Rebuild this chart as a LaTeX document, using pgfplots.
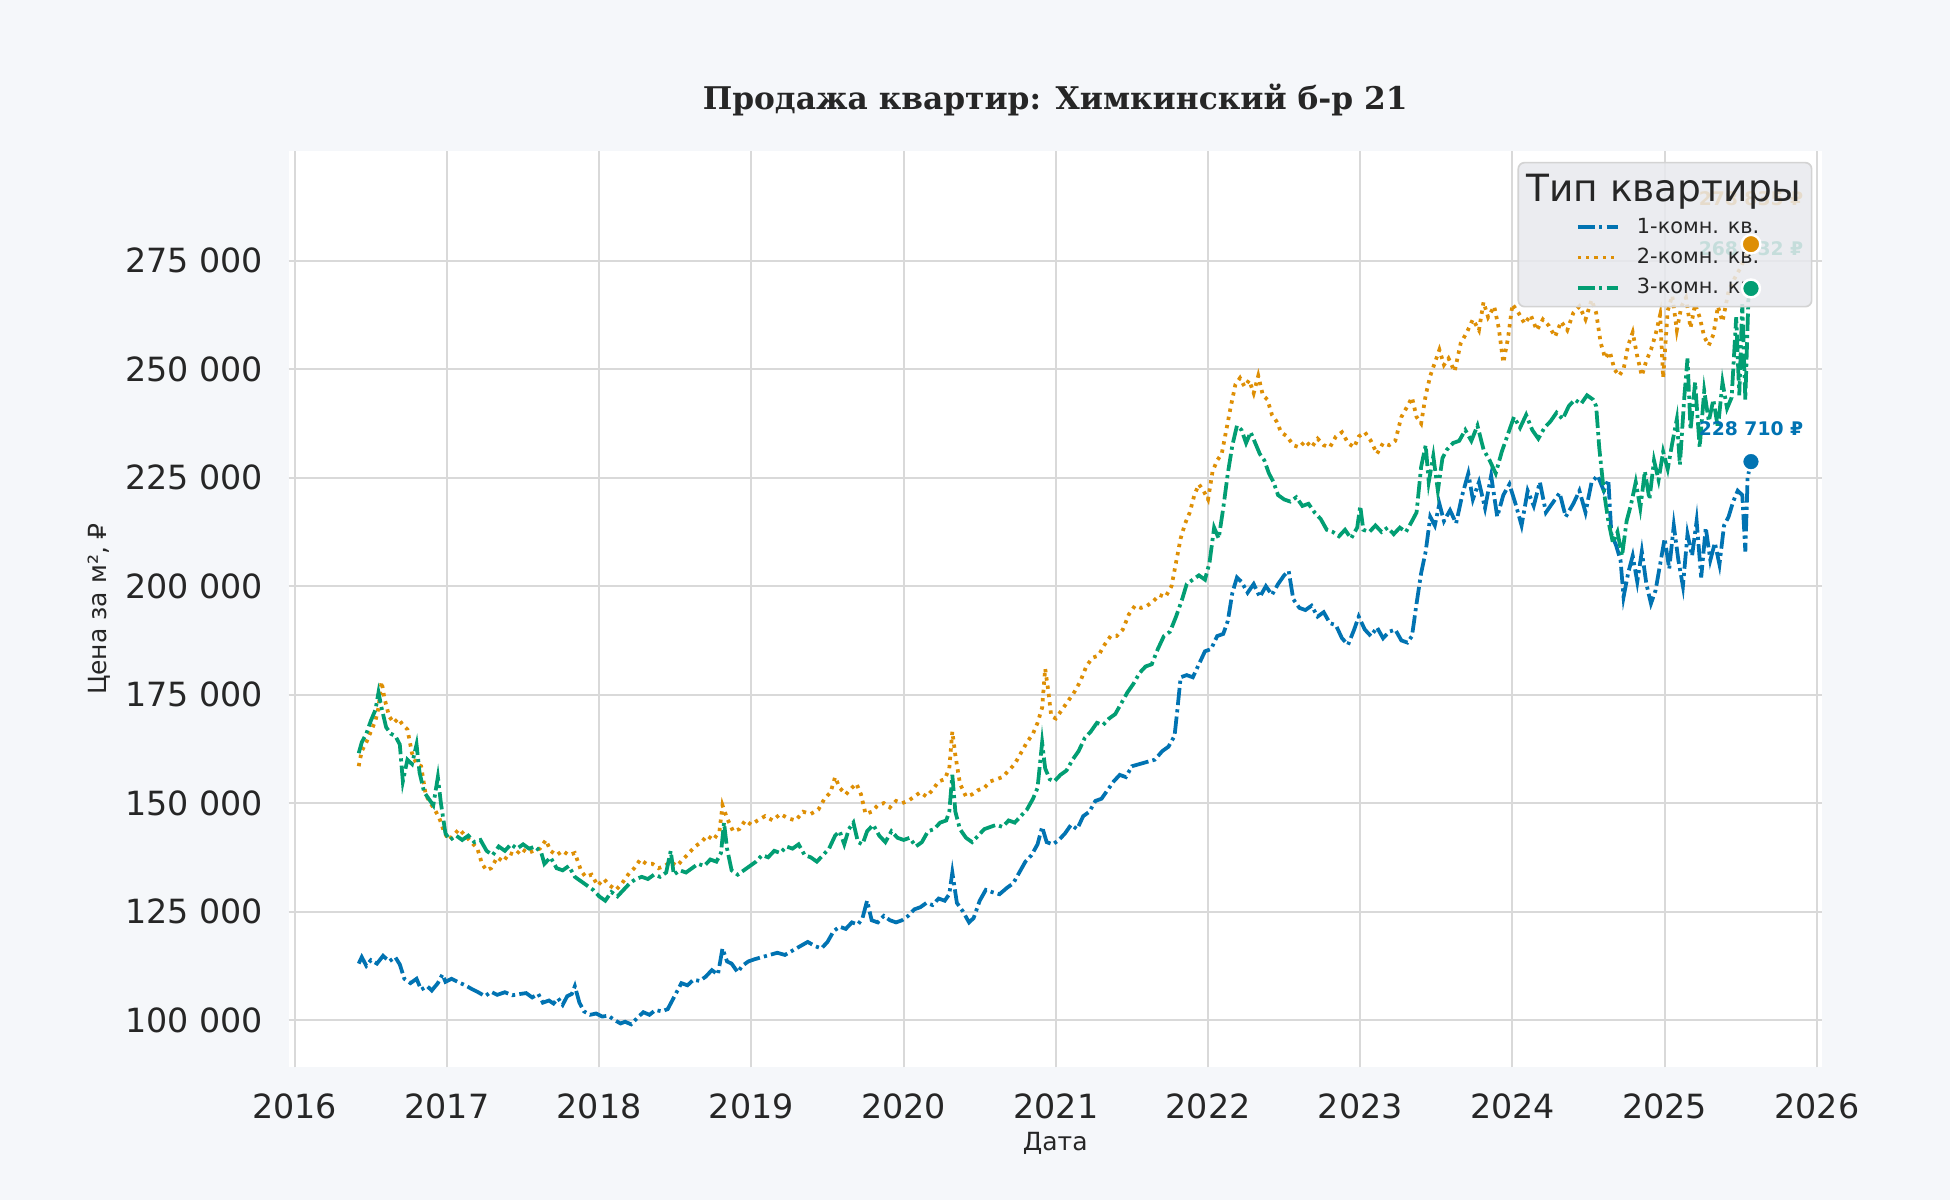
\documentclass[border=0pt]{standalone}
\usepackage{pgfplots}
\pgfplotsset{compat=1.18}
\usepackage{fontspec}
\setmainfont{DejaVu Sans}
\newfontfamily\titlefont{DejaVu Serif}

\definecolor{figbg}{HTML}{F5F7FA}
\definecolor{txt}{HTML}{262626}
\definecolor{gridc}{HTML}{D9D9D9}
\definecolor{c1}{HTML}{0173B2}
\definecolor{c2}{HTML}{DE8F05}
\definecolor{c3}{HTML}{029E73}
\definecolor{legfill}{HTML}{E8E9EE}
\definecolor{legedge}{HTML}{D3D3D3}

\pgfplotsset{
  frame/.style={
    at={(138.5pt,63.7pt)}, anchor=south west,
    width=736pt, height=440pt, scale only axis,
    xmin=2015.959, xmax=2026.033,
    ymin=89100, ymax=300400,
  },
  dashdot/.style={line width=1.8pt, dash pattern=on 8.3pt off 2pt on 1.5pt off 2pt},
  dotted2/.style={line width=1.8pt, dash pattern=on 1.6pt off 2.4pt},
}

\begin{document}
\begin{tikzpicture}
\fill[figbg] (0,0) rectangle (936pt,576pt);
\node[anchor=base, text=txt, font=\titlefont\bfseries\fontsize{15}{18}\selectfont]
  at (506.5pt,523.2pt) {Продажа квартир: Химкинский б-р 21};

\begin{axis}[
  frame,
  clip=false,
  scaled y ticks=false,
  axis background/.style={fill=white},
  axis line style={draw=none},
  major tick length=0pt,
  grid=major,
  major grid style={gridc, line width=1pt},
  xtick={2016,2017,2018,2019,2020,2021,2022,2023,2024,2025,2026},
  xticklabels={2016,2017,2018,2019,2020,2021,2022,2023,2024,2025,2026},
  ytick={100000,125000,150000,175000,200000,225000,250000,275000},
  yticklabels={100 000,125 000,150 000,175 000,200 000,225 000,250 000,275 000},
  xticklabel style={font=\fontsize{16}{19}\selectfont, text=txt, inner sep=0pt, yshift=-12.3pt},
  yticklabel style={font=\fontsize{16}{19}\selectfont, text=txt, inner sep=0pt, xshift=-12pt},
  xlabel={Дата},
  ylabel={Цена за м², ₽},
  xlabel style={font=\fontsize{12}{14}\selectfont, text=txt, at={(axis description cs:0.5,-0.0825)}, anchor=center},
  ylabel style={font=\fontsize{12}{14}\selectfont, text=txt, at={(axis description cs:-0.1232,0.5)}, anchor=center},
  legend cell align=left,
  legend image code/.code={\draw[#1] (0pt,0pt) -- (19.5pt,0pt);},
  legend style={at={(rel axis cs:0.8396,0.9275)}, anchor=north west,
    draw=none, fill=none, inner sep=0pt, outer sep=0pt,
    row sep=4.7pt, column sep=8pt,
    font=\fontsize{10}{12}\selectfont, text=txt,
    nodes={inner sep=0pt, text height=7.8pt, text depth=2pt}},
]

% 1-комн.
\addplot[c1, dashdot] coordinates {
(2016.42,113000)(2016.44,114500)(2016.47,112500)(2016.50,113800)(2016.54,113000)(2016.58,114800)
(2016.62,113500)(2016.66,114500)(2016.69,112800)(2016.72,109500)(2016.76,108500)(2016.80,109500)
(2016.83,107000)(2016.87,107800)(2016.90,106800)(2016.94,108500)(2016.97,110500)(2016.99,108800)
(2017.03,109500)(2017.07,108800)(2017.12,108000)(2017.16,107200)(2017.20,106500)(2017.25,105500)
(2017.29,106500)(2017.33,105800)(2017.38,106400)(2017.43,105700)(2017.48,106000)(2017.52,106200)
(2017.56,105200)(2017.60,106000)(2017.63,104000)(2017.67,104500)(2017.70,103800)(2017.73,105000)
(2017.76,103500)(2017.79,105500)(2017.82,106000)(2017.84,107800)(2017.87,104000)(2017.90,102000)
(2017.94,101200)(2017.98,101500)(2018.02,100800)(2018.06,101000)(2018.10,100000)(2018.14,99200)
(2018.17,99600)(2018.21,99000)(2018.25,100500)(2018.29,101800)(2018.33,101200)(2018.37,102300)
(2018.41,102000)(2018.45,102500)(2018.48,104500)(2018.51,106500)(2018.54,108500)(2018.58,108000)
(2018.62,109300)(2018.66,109000)(2018.70,110000)(2018.74,111500)(2018.78,110500)(2018.81,116500)
(2018.84,113500)(2018.87,113000)(2018.91,111000)(2018.94,112500)(2018.98,113500)(2019.02,114000)
(2019.07,114500)(2019.12,115000)(2019.17,115500)(2019.22,115000)(2019.27,116000)(2019.32,117000)
(2019.37,118000)(2019.42,117000)(2019.46,116500)(2019.50,118000)(2019.54,120500)(2019.58,121500)
(2019.62,121000)(2019.66,122500)(2019.70,122000)(2019.73,123500)(2019.76,127500)(2019.79,123000)
(2019.83,122500)(2019.87,124000)(2019.91,123000)(2019.95,122500)(2019.99,123000)(2020.03,124000)
(2020.07,125500)(2020.11,126000)(2020.15,127000)(2020.19,126500)(2020.23,128000)(2020.27,127500)
(2020.30,129000)(2020.32,134000)(2020.35,127000)(2020.39,125000)(2020.43,122500)(2020.46,123500)
(2020.50,127500)(2020.54,130000)(2020.58,129500)(2020.63,129000)(2020.68,130500)(2020.72,131500)
(2020.76,134000)(2020.80,136500)(2020.84,138000)(2020.88,140500)(2020.91,144500)(2020.94,141000)
(2020.98,140500)(2021.02,141500)(2021.06,143000)(2021.10,145000)(2021.14,144000)(2021.18,147000)
(2021.22,148000)(2021.26,150500)(2021.30,151000)(2021.34,153000)(2021.38,155000)(2021.42,156500)
(2021.46,156000)(2021.50,158500)(2021.55,159000)(2021.60,159500)(2021.65,160000)(2021.70,162000)
(2021.74,163000)(2021.78,165500)(2021.80,172000)(2021.82,179000)(2021.86,179500)(2021.90,179000)
(2021.94,182000)(2021.98,185000)(2022.02,185500)(2022.06,188500)(2022.10,189000)(2022.13,192000)
(2022.16,198500)(2022.19,202000)(2022.22,201000)(2022.26,198500)(2022.30,200500)(2022.34,197500)
(2022.38,200000)(2022.42,198000)(2022.46,200500)(2022.50,202500)(2022.53,203500)(2022.56,197000)
(2022.60,195000)(2022.64,194500)(2022.68,195500)(2022.72,193000)(2022.76,194000)(2022.80,191500)
(2022.84,191000)(2022.88,188000)(2022.92,186500)(2022.96,190000)(2022.99,193000)(2023.03,190000)
(2023.07,188500)(2023.11,190500)(2023.15,188000)(2023.19,189500)(2023.23,190000)(2023.27,187500)
(2023.31,187000)(2023.34,188500)(2023.37,196000)(2023.40,203000)(2023.43,208000)(2023.46,216000)
(2023.49,214000)(2023.52,219000)(2023.55,215000)(2023.59,217500)(2023.63,214500)(2023.67,221000)
(2023.71,226000)(2023.74,220000)(2023.78,224000)(2023.82,218000)(2023.86,225500)(2023.90,216000)
(2023.94,221000)(2023.98,223500)(2024.02,219000)(2024.06,214000)(2024.10,222000)(2024.14,218500)
(2024.18,224000)(2024.22,217000)(2024.27,219500)(2024.31,221500)(2024.35,216000)(2024.40,219000)
(2024.44,222000)(2024.48,217000)(2024.52,224000)(2024.56,225500)(2024.60,222000)(2024.63,224500)
(2024.65,212000)(2024.68,209500)(2024.71,206000)(2024.73,197500)(2024.76,203000)(2024.79,207000)
(2024.82,201000)(2024.85,208000)(2024.88,200500)(2024.91,196000)(2024.94,199000)(2024.97,205000)
(2025.00,211000)(2025.03,204000)(2025.06,214000)(2025.09,206000)(2025.12,200000)(2025.15,212000)
(2025.18,207000)(2025.21,215000)(2025.24,202000)(2025.27,213500)(2025.30,206000)(2025.33,210000)
(2025.36,205000)(2025.39,214000)(2025.42,216000)(2025.45,219500)(2025.48,222000)(2025.51,221000)
(2025.53,208000)(2025.545,225000)(2025.567,228710)
};
\addlegendentry{1-комн. кв.}

% 2-комн.
\addplot[c2, dotted2] coordinates {
(2016.42,158500)(2016.44,162000)(2016.47,164000)(2016.50,166500)(2016.53,169000)(2016.55,172000)
(2016.57,178000)(2016.59,174000)(2016.62,170000)(2016.65,168500)(2016.68,169500)(2016.71,168000)
(2016.74,167000)(2016.77,161500)(2016.80,159000)(2016.83,158500)(2016.86,152000)(2016.89,150000)
(2016.92,148500)(2016.95,146500)(2016.98,143500)(2017.01,141500)(2017.04,142500)(2017.08,144000)
(2017.12,142500)(2017.16,141000)(2017.20,139500)(2017.23,136000)(2017.26,134500)(2017.29,135000)
(2017.33,137500)(2017.37,136500)(2017.41,138500)(2017.45,138000)(2017.49,139500)(2017.53,138500)
(2017.57,139000)(2017.61,139500)(2017.65,141500)(2017.68,139000)(2017.72,138000)(2017.76,139000)
(2017.80,138000)(2017.84,138500)(2017.88,134500)(2017.91,133000)(2017.95,133500)(2017.99,131000)
(2018.03,132500)(2018.07,131000)(2018.11,130000)(2018.15,131500)(2018.19,133500)(2018.23,135000)
(2018.27,137000)(2018.31,136000)(2018.35,136000)(2018.39,135000)(2018.43,135500)(2018.47,136500)
(2018.51,135500)(2018.55,137000)(2018.59,138500)(2018.63,140000)(2018.67,141000)(2018.71,142500)
(2018.75,141500)(2018.79,143500)(2018.81,149500)(2018.84,146500)(2018.88,143500)(2018.92,144000)
(2018.96,146000)(2019.00,145000)(2019.04,146000)(2019.09,147000)(2019.14,146000)(2019.19,147500)
(2019.24,146500)(2019.29,146000)(2019.34,148000)(2019.39,147500)(2019.44,148500)(2019.48,151000)
(2019.52,152500)(2019.55,156000)(2019.58,153500)(2019.62,152000)(2019.66,153500)(2019.69,154500)
(2019.72,152000)(2019.75,147500)(2019.79,148000)(2019.83,149500)(2019.87,150000)(2019.91,149000)
(2019.95,150500)(2019.99,150000)(2020.03,150500)(2020.07,151500)(2020.11,152500)(2020.15,151500)
(2020.19,153000)(2020.23,155000)(2020.27,155500)(2020.30,158000)(2020.32,166500)(2020.34,161000)
(2020.37,154500)(2020.41,151500)(2020.45,152000)(2020.49,153000)(2020.53,153500)(2020.57,155000)
(2020.61,155500)(2020.65,156000)(2020.69,157500)(2020.73,159000)(2020.77,161500)(2020.81,164000)
(2020.85,166000)(2020.88,168500)(2020.91,172000)(2020.93,181000)(2020.95,176000)(2020.97,170000)
(2021.00,169500)(2021.04,171500)(2021.08,173500)(2021.12,175500)(2021.16,178000)(2021.20,181500)
(2021.24,183500)(2021.28,184000)(2021.32,186500)(2021.36,188500)(2021.40,188500)(2021.44,190000)
(2021.48,193500)(2021.52,195500)(2021.56,195000)(2021.60,195500)(2021.64,196500)(2021.68,198000)
(2021.72,197500)(2021.76,200000)(2021.79,205500)(2021.82,211000)(2021.85,214500)(2021.88,217000)
(2021.91,221000)(2021.94,223500)(2021.97,222000)(2022.00,220000)(2022.03,226500)(2022.06,229000)
(2022.09,230500)(2022.12,236000)(2022.15,241500)(2022.18,246500)(2022.21,248000)(2022.24,246000)
(2022.27,247500)(2022.30,244500)(2022.33,248500)(2022.36,244000)(2022.39,243000)(2022.42,239500)
(2022.45,238000)(2022.48,235500)(2022.52,234500)(2022.56,232500)(2022.60,232000)(2022.64,233500)
(2022.68,232000)(2022.72,234000)(2022.76,232500)(2022.80,232000)(2022.84,234500)(2022.88,235500)
(2022.92,233000)(2022.96,232000)(2022.99,234500)(2023.03,235500)(2023.07,233500)(2023.11,230500)
(2023.15,233000)(2023.19,232500)(2023.23,233500)(2023.27,239000)(2023.31,241500)(2023.34,243500)
(2023.37,239000)(2023.40,237500)(2023.43,244000)(2023.46,248500)(2023.49,251500)(2023.52,254500)
(2023.55,251000)(2023.58,252500)(2023.62,249500)(2023.66,256000)(2023.70,258500)(2023.74,261500)
(2023.78,259000)(2023.81,265500)(2023.84,262000)(2023.88,264500)(2023.91,259500)(2023.94,251500)
(2023.97,257000)(2024.00,265000)(2024.04,263000)(2024.08,260500)(2024.12,262500)(2024.16,259000)
(2024.20,261500)(2024.24,260000)(2024.28,257500)(2024.32,261000)(2024.36,259000)(2024.40,263000)
(2024.44,264500)(2024.48,261500)(2024.52,266000)(2024.55,263000)(2024.58,256000)(2024.61,252500)
(2024.64,254000)(2024.67,250000)(2024.70,248500)(2024.73,250000)(2024.76,255500)(2024.79,258500)
(2024.82,253000)(2024.85,248500)(2024.88,252000)(2024.91,254500)(2024.94,258000)(2024.97,262500)
(2024.99,248000)(2025.02,263500)(2025.05,267000)(2025.08,259000)(2025.11,264500)(2025.14,266500)
(2025.17,259500)(2025.20,265000)(2025.23,262000)(2025.26,257500)(2025.29,255500)(2025.32,258000)
(2025.35,264500)(2025.38,261000)(2025.42,268000)(2025.46,271000)(2025.50,273500)(2025.53,276000)
(2025.567,278835)
};
\addlegendentry{2-комн. кв.}

% 3-комн.
\addplot[c3, dashdot] coordinates {
(2016.42,161500)(2016.44,164000)(2016.47,166000)(2016.50,169000)(2016.53,171500)(2016.55,175500)
(2016.57,172000)(2016.60,167500)(2016.63,166000)(2016.66,165500)(2016.69,163500)(2016.71,155000)
(2016.74,160000)(2016.77,159000)(2016.80,163500)(2016.82,157000)(2016.85,152500)(2016.88,151000)
(2016.91,149500)(2016.94,156000)(2016.96,150000)(2016.99,143000)(2017.02,141500)(2017.06,142500)
(2017.10,141500)(2017.14,142500)(2017.18,141000)(2017.22,141500)(2017.26,139000)(2017.30,138000)
(2017.34,140000)(2017.38,139000)(2017.42,140500)(2017.46,139500)(2017.50,140500)(2017.54,139500)
(2017.58,140000)(2017.62,138500)(2017.64,136000)(2017.68,137500)(2017.72,135000)(2017.76,134500)
(2017.80,135500)(2017.84,133000)(2017.88,132000)(2017.92,131000)(2017.96,130000)(2018.00,128500)
(2018.04,127500)(2018.08,129500)(2018.12,128500)(2018.16,130000)(2018.20,131500)(2018.24,132500)
(2018.28,133000)(2018.32,132500)(2018.36,133500)(2018.40,133000)(2018.44,134000)(2018.47,139000)
(2018.49,133500)(2018.53,134500)(2018.57,134000)(2018.61,135000)(2018.65,136000)(2018.69,135500)
(2018.73,137000)(2018.77,136500)(2018.80,138500)(2018.82,145500)(2018.84,139500)(2018.87,134500)
(2018.91,133500)(2018.95,134500)(2018.99,135500)(2019.03,136500)(2019.07,138000)(2019.11,137500)
(2019.15,139000)(2019.19,138500)(2019.23,140000)(2019.27,139500)(2019.31,140500)(2019.35,138000)
(2019.39,137500)(2019.43,136500)(2019.47,138000)(2019.51,139500)(2019.55,142500)(2019.58,143500)
(2019.61,140500)(2019.64,144000)(2019.67,145500)(2019.70,141000)(2019.73,140500)(2019.76,143500)
(2019.80,145000)(2019.84,142500)(2019.88,141000)(2019.92,143500)(2019.96,142000)(2020.00,141500)
(2020.04,142000)(2020.08,140000)(2020.12,141000)(2020.16,143500)(2020.20,144000)(2020.24,145500)
(2020.28,146000)(2020.30,148000)(2020.32,156500)(2020.34,148000)(2020.37,144000)(2020.41,142000)
(2020.45,141000)(2020.49,142500)(2020.53,144000)(2020.57,144500)(2020.61,145000)(2020.65,144500)
(2020.69,146000)(2020.73,145500)(2020.77,147000)(2020.81,148500)(2020.85,151000)(2020.88,153500)
(2020.91,164000)(2020.93,158000)(2020.96,155500)(2020.99,155000)(2021.03,156500)(2021.07,157500)
(2021.11,160000)(2021.15,162000)(2021.19,165000)(2021.23,166500)(2021.27,168500)(2021.31,168000)
(2021.35,169500)(2021.39,170500)(2021.43,173000)(2021.47,175500)(2021.51,177500)(2021.55,180000)
(2021.59,181500)(2021.63,182000)(2021.67,185500)(2021.71,188500)(2021.75,189500)(2021.79,193000)
(2021.83,197000)(2021.86,200500)(2021.90,201500)(2021.94,202500)(2021.98,201500)(2022.01,205500)
(2022.04,213500)(2022.07,211000)(2022.10,218000)(2022.13,226000)(2022.16,232500)(2022.19,237000)
(2022.22,236000)(2022.25,233000)(2022.28,235500)(2022.31,233000)(2022.34,230500)(2022.37,229000)
(2022.40,226000)(2022.43,224000)(2022.46,221000)(2022.50,220000)(2022.54,219500)(2022.58,220500)
(2022.62,218500)(2022.66,219000)(2022.70,217000)(2022.74,215500)(2022.78,213000)(2022.82,212500)
(2022.86,211500)(2022.90,213000)(2022.94,211000)(2022.98,213500)(2023.00,218500)(2023.02,213000)
(2023.06,212500)(2023.10,214000)(2023.14,212500)(2023.18,213500)(2023.22,212000)(2023.26,213500)
(2023.30,212500)(2023.34,215000)(2023.37,217000)(2023.40,227500)(2023.43,232500)(2023.45,224000)
(2023.48,230000)(2023.51,222000)(2023.54,229500)(2023.57,231500)(2023.61,233000)(2023.65,233500)
(2023.69,236000)(2023.73,233500)(2023.77,237000)(2023.81,231500)(2023.85,229000)(2023.89,226000)
(2023.93,231000)(2023.97,235000)(2024.01,239000)(2024.05,236500)(2024.09,239500)(2024.13,236000)
(2024.17,234000)(2024.21,236500)(2024.25,238000)(2024.29,240000)(2024.33,238500)(2024.37,241500)
(2024.41,243000)(2024.45,242000)(2024.49,244000)(2024.53,243000)(2024.55,241500)(2024.57,232000)
(2024.60,222000)(2024.63,215000)(2024.66,210000)(2024.69,212500)(2024.72,207000)(2024.75,215000)
(2024.78,219000)(2024.81,224000)(2024.84,218000)(2024.87,226500)(2024.90,220000)(2024.93,229000)
(2024.96,224500)(2024.99,231000)(2025.02,227000)(2025.05,233000)(2025.08,238500)(2025.10,228000)
(2025.13,244000)(2025.15,252500)(2025.17,236000)(2025.20,247000)(2025.23,232000)(2025.26,245000)
(2025.29,238000)(2025.32,243000)(2025.35,236500)(2025.38,247000)(2025.41,241000)(2025.44,243500)
(2025.47,262000)(2025.49,244000)(2025.51,265000)(2025.53,243000)(2025.55,266000)(2025.567,268632)
};
\addlegendentry{3-комн. кв.}

% value labels at the last points
\node[c2, font=\bfseries\fontsize{9}{11}\selectfont, anchor=center] at (axis cs:2025.567,289400) {278 835 ₽};
\node[c3, font=\bfseries\fontsize{9}{11}\selectfont, anchor=center] at (axis cs:2025.567,277900) {268 632 ₽};
\node[c1, font=\bfseries\fontsize{9}{11}\selectfont, anchor=center] at (axis cs:2025.567,236400) {228 710 ₽};

% legend frame and title
\draw[legedge, line width=0.8pt, fill=legfill, fill opacity=0.85, rounded corners=3pt]
  (rel axis cs:0.802,0.8298) rectangle (rel axis cs:0.9933,0.9869);
\node[anchor=base, text=txt, font=\fontsize{18}{21}\selectfont] at (rel axis cs:0.897,0.944) {Тип квартиры};
\end{axis}

% last-point markers, drawn above the legend
\begin{axis}[frame, hide axis, clip=false]
\addplot[only marks, mark=*, mark size=4.5pt, mark options={fill=c2, draw=white, line width=1.2pt}]
  coordinates {(2025.567,278835)};
\addplot[only marks, mark=*, mark size=4.3pt, mark options={fill=c3, draw=white, line width=1.2pt}]
  coordinates {(2025.567,268632)};
\addplot[only marks, mark=*, mark size=4.3pt, mark options={fill=c1, draw=white, line width=1.2pt}]
  coordinates {(2025.567,228710)};
\end{axis}
\end{tikzpicture}
\end{document}
